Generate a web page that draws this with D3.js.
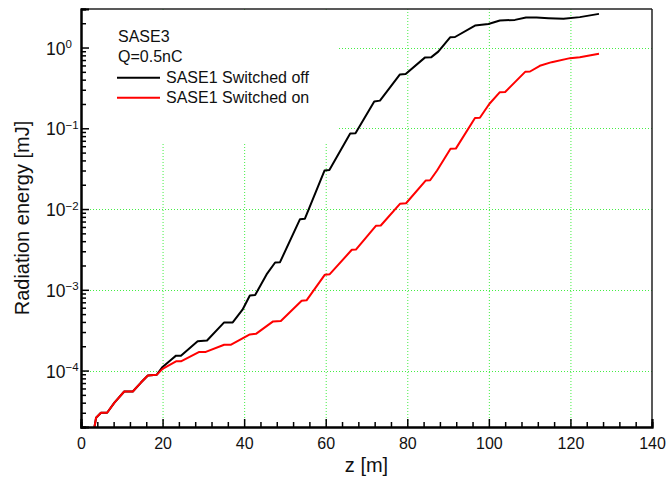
<!DOCTYPE html>
<html>
<head>
<meta charset="utf-8">
<script src="https://cdn.jsdelivr.net/npm/d3@7"></script>
<style>
  html, body { margin: 0; padding: 0; background: #fff; }
  svg { display: block; font-family: "Liberation Sans", Arial, sans-serif; }
</style>
</head>
<body>
<svg id="chart" width="667" height="477"></svg>
<script>
// ---- data ----
const zOff = [3.3, 3.7, 4.9, 6.4, 8.2, 10.6, 12.7, 14.7, 16.4, 18.6, 20.0, 22.1, 23.3, 24.5, 28.6, 30.9, 35.1, 37.2, 39.6, 41.4, 42.7, 45.5, 47.6, 48.8, 53.7, 54.9, 59.7, 60.9, 66.0, 67.3, 71.9, 73.3, 78.2, 79.6, 84.3, 85.9, 87.6, 90.5, 91.7, 96.6, 99.9, 102.7, 106.4, 109.1, 111.7, 114.6, 118.3, 122.3, 127.0];
const eOff = [2.0e-5, 2.6e-5, 3.0e-5, 3.0e-5, 4.0e-5, 5.5e-5, 5.5e-5, 7.1e-5, 8.7e-5, 8.9e-5, 1.11e-4, 1.36e-4, 1.53e-4, 1.53e-4, 2.30e-4, 2.36e-4, 3.95e-4, 3.95e-4, 5.67e-4, 8.5e-4, 8.6e-4, 1.55e-3, 2.18e-3, 2.2e-3, 7.5e-3, 7.6e-3, 3.0e-2, 3.05e-2, 8.6e-2, 8.7e-2, 0.215, 0.22, 0.465, 0.47, 0.75, 0.76, 0.89, 1.34, 1.35, 1.87, 1.96, 2.16, 2.20, 2.35, 2.35, 2.31, 2.27, 2.38, 2.61];

const zOn = [3.3, 3.7, 4.9, 6.4, 8.2, 10.6, 12.7, 14.7, 16.4, 18.6, 20.0, 23.3, 24.5, 29.0, 30.6, 35.1, 36.8, 41.4, 42.9, 47.1, 49.0, 54.1, 55.3, 59.8, 61.0, 66.4, 67.4, 72.3, 73.5, 78.2, 79.7, 84.5, 85.6, 87.3, 90.6, 91.9, 96.6, 97.8, 100.1, 102.7, 104.0, 108.9, 110.1, 112.5, 115.4, 119.9, 122.3, 127.0];
const eOn = [2.0e-5, 2.6e-5, 3.0e-5, 3.0e-5, 4.0e-5, 5.5e-5, 5.5e-5, 7.1e-5, 8.7e-5, 8.9e-5, 1.05e-4, 1.30e-4, 1.30e-4, 1.70e-4, 1.70e-4, 2.09e-4, 2.09e-4, 2.8e-4, 2.85e-4, 4.06e-4, 4.1e-4, 7.3e-4, 7.4e-4, 1.54e-3, 1.56e-3, 3.13e-3, 3.15e-3, 6.2e-3, 6.25e-3, 1.16e-2, 1.18e-2, 2.25e-2, 2.27e-2, 3.0e-2, 5.57e-2, 5.6e-2, 0.134, 0.135, 0.20, 0.28, 0.282, 0.50, 0.505, 0.594, 0.659, 0.739, 0.76, 0.836];

const xTicks = [0, 20, 40, 60, 80, 100, 120, 140];
const yExponents = [-4, -3, -2, -1, 0];
const legendTitle = ["SASE3", "Q=0.5nC"];
const seriesNames = ["SASE1 Switched off", "SASE1 Switched on"];
const seriesColors = ["#000000", "#ff0000"];
const xTitle = "z [m]";
const yTitle = "Radiation energy [mJ]";

// ---- layout ----
const L = 81, R = 652, T = 9, B = 427;
const svg = d3.select("#chart");

const x = d3.scaleLinear().domain([0, 140]).range([L, R]);
const y = d3.scaleLog().domain([2e-5, 3]).range([B, T]);

// grid
const grid = svg.append("g").attr("stroke", "#44ee44").attr("stroke-width", 1)
  .attr("stroke-dasharray", "1,2").attr("fill", "none");
xTicks.filter(d => d > 0 && d < 140).forEach(d => {
  grid.append("line").attr("x1", x(d) + 0.5).attr("x2", x(d) + 0.5).attr("y1", T).attr("y2", B);
});
yExponents.forEach(e => {
  const v = Math.pow(10, e);
  grid.append("line").attr("x1", L).attr("x2", R).attr("y1", Math.round(y(v)) + 0.5).attr("y2", Math.round(y(v)) + 0.5);
});

// legend background (covers grid)
svg.append("rect").attr("x", L + 1).attr("y", T + 2).attr("width", 337 - L - 1).attr("height", 143 - T - 2).attr("fill", "#fff");

// curves
const line = d3.line().x(d => x(d[0])).y(d => y(d[1])).curve(d3.curveLinear);
const dOff = zOff.map((z, i) => [z, eOff[i]]);
const dOn = zOn.map((z, i) => [z, eOn[i]]);
svg.append("clipPath").attr("id", "clip").append("rect")
  .attr("x", L).attr("y", T).attr("width", R - L).attr("height", B - T);
svg.append("path").datum(dOff).attr("d", line).attr("fill", "none")
  .attr("stroke", seriesColors[0]).attr("stroke-width", 2).attr("stroke-linejoin", "round")
  .attr("clip-path", "url(#clip)");
svg.append("path").datum(dOn).attr("d", line).attr("fill", "none")
  .attr("stroke", seriesColors[1]).attr("stroke-width", 2).attr("stroke-linejoin", "round")
  .attr("clip-path", "url(#clip)");

// frame (top/right)
svg.append("line").attr("x1", L).attr("x2", R).attr("y1", T).attr("y2", T).attr("stroke", "#222").attr("stroke-width", 1.5);
svg.append("line").attr("x1", R).attr("x2", R).attr("y1", T).attr("y2", B).attr("stroke", "#222").attr("stroke-width", 1.5);

// x axis
const xMinor = d3.range(0, 141, 4).filter(d => d % 20 !== 0);
const gxMinor = svg.append("g").attr("transform", `translate(0,${B})`)
  .call(d3.axisBottom(x).tickValues(xMinor).tickSize(-5).tickFormat(""));
const gx = svg.append("g").attr("transform", `translate(0,${B})`)
  .call(d3.axisBottom(x).tickValues(xTicks).tickSize(-8).tickPadding(14).tickFormat(d3.format("d")));
[gx, gxMinor].forEach(g => {
  g.select(".domain").attr("stroke", "#000").attr("stroke-width", 2);
  g.selectAll(".tick line").attr("stroke", "#000").attr("stroke-width", 1.5);
});
gx.selectAll(".tick text").attr("font-size", 16).attr("fill", "#111")
  .attr("font-family", "Liberation Sans, Arial, sans-serif").attr("dy", "0.71em").attr("y", 11);

// y axis
const yMinor = [];
for (let e = -5; e <= 0; e++) for (let m = 2; m <= 9; m++) {
  const v = m * Math.pow(10, e);
  if (v >= 2e-5 && v <= 3) yMinor.push(v);
}
const gyMinor = svg.append("g").attr("transform", `translate(${L},0)`)
  .call(d3.axisLeft(y).tickValues(yMinor).tickSize(-5).tickFormat(""));
const gy = svg.append("g").attr("transform", `translate(${L},0)`)
  .call(d3.axisLeft(y).tickValues(yExponents.map(e => Math.pow(10, e))).tickSize(-8).tickFormat(""));
[gy, gyMinor].forEach(g => {
  g.select(".domain").attr("stroke", "#000").attr("stroke-width", 2);
  g.selectAll(".tick line").attr("stroke", "#000").attr("stroke-width", 1.5);
});
const yl = svg.append("g").attr("fill", "#111");
yExponents.forEach(e => {
  const yy = y(Math.pow(10, e));
  const t = yl.append("text").attr("x", 46).attr("y", yy + 7).attr("font-size", 17.5);
  t.append("tspan").text("10");
  t.append("tspan").attr("font-size", 11.5).attr("dy", -6.5).text(e < 0 ? "\u2212" + Math.abs(e) : String(e));
});

// axis titles
svg.append("text").attr("x", x(70)).attr("y", 472).attr("text-anchor", "middle")
  .attr("font-size", 20).attr("fill", "#111").text(xTitle);
svg.append("text").attr("transform", `translate(29,${(T + B) / 2}) rotate(-90)`)
  .attr("text-anchor", "middle").attr("font-size", 20).attr("fill", "#111").text(yTitle);

// legend
const lg = svg.append("g").attr("font-size", 16).attr("fill", "#111");
lg.append("text").attr("x", 118).attr("y", 41.5).text(legendTitle[0]);
lg.append("text").attr("x", 118).attr("y", 61.5).text(legendTitle[1]);
seriesNames.forEach((n, i) => {
  const yy = 77.7 + i * 20;
  lg.append("line").attr("x1", 117).attr("x2", 160).attr("y1", yy).attr("y2", yy)
    .attr("stroke", seriesColors[i]).attr("stroke-width", 2);
  lg.append("text").attr("x", 166).attr("y", yy + 5.3).text(n);
});
</script>
</body>
</html>
